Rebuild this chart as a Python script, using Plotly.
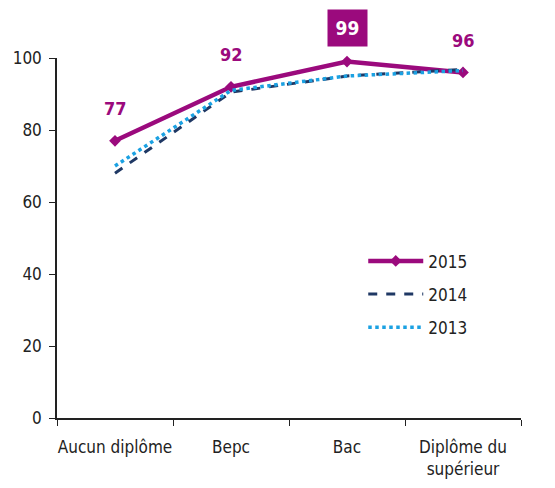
import plotly.graph_objects as go

categories = ["Aucun diplôme", "Bepc", "Bac", "Diplôme du<br>supérieur"]
y2015 = [77, 92, 99, 96]
y2014 = [68, 90.5, 95, 96.8]
y2013 = [70, 91, 95, 96.5]
tick_vals = [0, 20, 40, 60, 80, 100]

FONT = "DejaVu Sans Condensed, DejaVu Sans"

fig = go.Figure()
fig.add_trace(go.Scatter(x=categories, y=y2015, name="2015", mode="lines+markers",
                         legendgroup="a",
                         line=dict(color="#9B0A7D", width=4.5),
                         marker=dict(symbol="diamond", size=9, color="#9B0A7D")))
fig.add_trace(go.Scatter(x=categories, y=y2014, name="2014", mode="lines",
                         legendgroup="b",
                         line=dict(color="#1F3864", width=3, dash="dash")))
fig.add_trace(go.Scatter(x=categories, y=y2013, name="2013", mode="lines",
                         legendgroup="c",
                         line=dict(color="#1BA1E2", width=3.5, dash="dot")))

for i, (c, v) in enumerate(zip(categories, y2015)):
    if i == 2:
        fig.add_annotation(x=c, y=v, text="<b>%d</b>" % v, showarrow=False, yshift=34,
                           font=dict(color="white", size=19, family=FONT),
                           bgcolor="#9B0A7D", borderpad=4, width=31, height=28)
    else:
        fig.add_annotation(x=c, y=v, text="<b>%d</b>" % v, showarrow=False, yshift=32,
                           font=dict(color="#9B0A7D", size=18, family=FONT))

fig.update_layout(
    width=555, height=488,
    margin=dict(l=49, r=42, t=50, b=78),
    plot_bgcolor="white", paper_bgcolor="white",
    font=dict(family=FONT, size=17, color="#222"),
    showlegend=True,
    legend=dict(x=0.66, y=0.485, xanchor="left", yanchor="top", bgcolor="rgba(0,0,0,0)",
                font=dict(size=17), tracegroupgap=8, itemwidth=55),
)
fig.update_xaxes(range=[-0.5, 3.5], showline=True, linecolor="#222", linewidth=1.5,
                 ticks="outside", tickson="boundaries", ticklen=6, tickcolor="#222",
                 showgrid=False, automargin=False, ticklabelstandoff=13, tickangle=0,
                 tickfont=dict(size=17))
fig.update_yaxes(range=[0, 100], tickvals=tick_vals, showline=True, linecolor="#222",
                 linewidth=1.5, ticks="outside", ticklen=6, tickcolor="#222",
                 showgrid=False, zeroline=False, automargin=False, ticklabelstandoff=4,
                 tickfont=dict(size=17))
fig.update_traces(cliponaxis=False)
fig.write_html("out.html")
